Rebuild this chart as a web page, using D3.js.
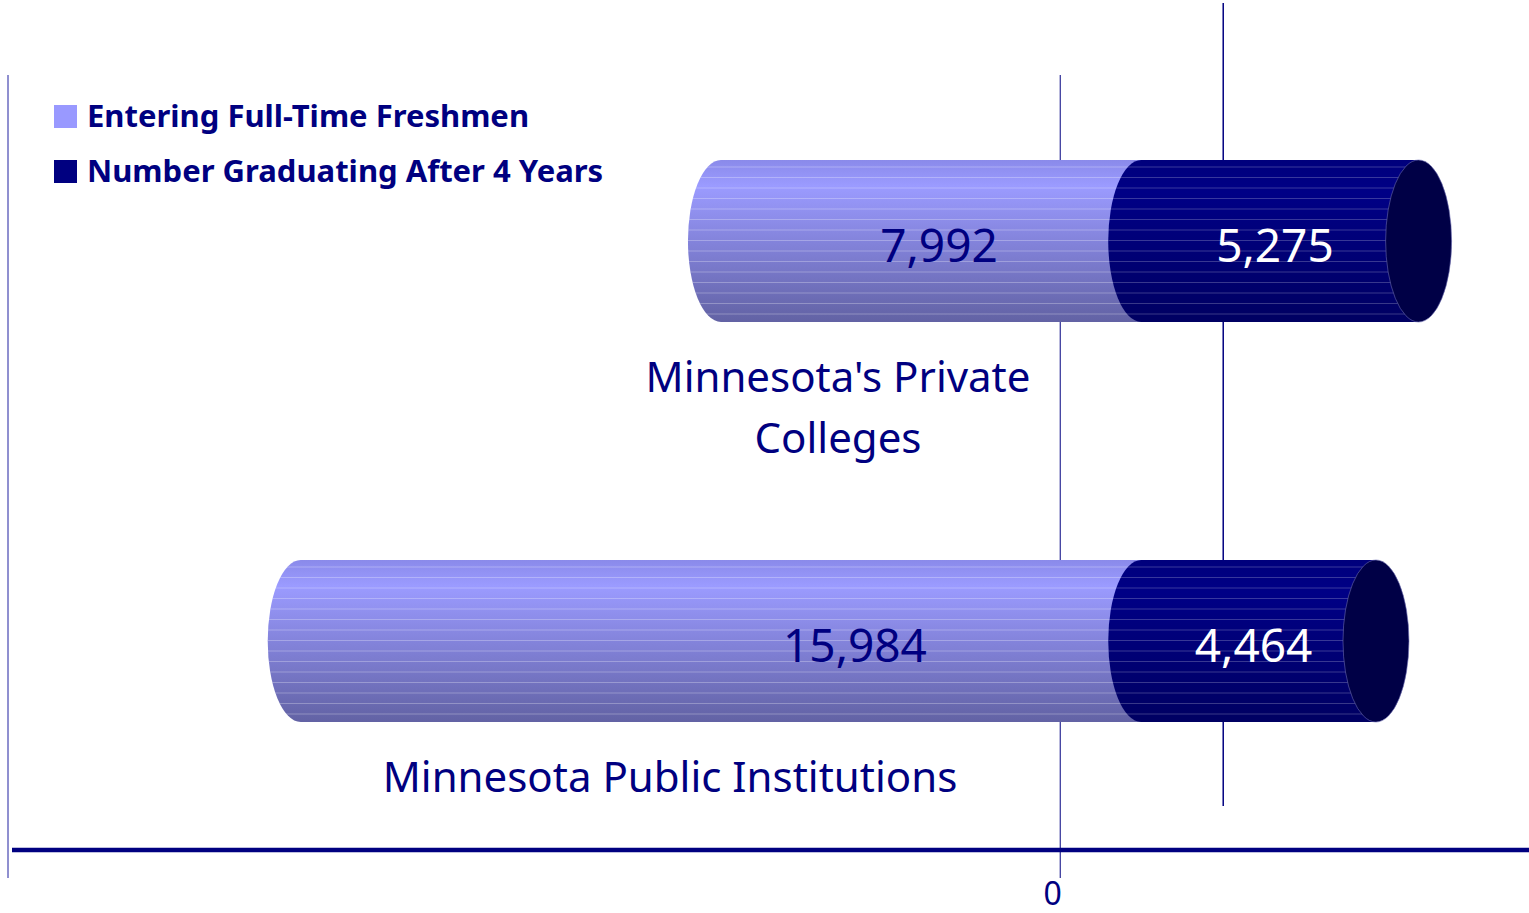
<!DOCTYPE html>
<html>
<head>
<meta charset="utf-8">
<script src="https://cdn.jsdelivr.net/npm/d3@7"></script>
<style>
  body { margin: 0; background: #fff; }
  svg { display: block; }
  text { font-family: "Noto Sans", "Open Sans", sans-serif; fill: #000080; }
</style>
</head>
<body>
<script>
var width = 1529,
    height = 913;

// data
var categories = [["Minnesota's Private", "Colleges"], ["Minnesota Public Institutions"]];
var freshmen = [7992, 15984];
var graduating = [5275, 4464];
var seriesNames = ["Entering Full-Time Freshmen", "Number Graduating After 4 Years"];
var xTicks = [0];

var light = "#9999ff", dark = "#000080";
var fmt = d3.format(",");

var svg = d3.select("body").append("svg")
    .attr("width", width)
    .attr("height", height);

var defs = svg.append("defs");

var gl = defs.append("linearGradient").attr("id", "gLight").attr("x1", 0).attr("x2", 0).attr("y1", 0).attr("y2", 1);
gl.append("stop").attr("offset", 0).attr("stop-color", "#8a8aea");
gl.append("stop").attr("offset", 0.16).attr("stop-color", "#9b9bff");
gl.append("stop").attr("offset", 0.55).attr("stop-color", "#8080d6");
gl.append("stop").attr("offset", 1).attr("stop-color", "#6262a4");

var gd = defs.append("linearGradient").attr("id", "gDark").attr("x1", 0).attr("x2", 0).attr("y1", 0).attr("y2", 1);
gd.append("stop").attr("offset", 0).attr("stop-color", "#00007c");
gd.append("stop").attr("offset", 0.2).attr("stop-color", "#000086");
gd.append("stop").attr("offset", 1).attr("stop-color", "#000062");

// scales (front plane), bars sit half way into the depth
var x = d3.scaleLinear().domain([-20000, 9000]).range([8, 1533]);
var y = d3.scalePoint().domain(d3.range(categories.length)).range([241, 641]);
var depthX = 163, depthY = -72;
var barH = 162, rx = 33;
var bx = function(v) { return x(v) + depthX / 2; };

// plot frame + gridlines
svg.append("line")
    .attr("x1", 8).attr("x2", 8).attr("y1", 75).attr("y2", 878)
    .attr("stroke", "#2020a0").attr("stroke-width", 1);

xTicks.forEach(function(t) {
  svg.append("line")
      .attr("x1", x(t) + 0.5).attr("x2", x(t) + 0.5).attr("y1", 75).attr("y2", 878)
      .attr("stroke", dark).attr("stroke-width", 1);
  svg.append("line")
      .attr("x1", x(t) + depthX + 0.5).attr("x2", x(t) + depthX + 0.5)
      .attr("y1", 75 + depthY).attr("y2", 878 + depthY)
      .attr("stroke", dark).attr("stroke-width", 1.5);
});

// horizontal axis
svg.append("line")
    .attr("x1", 12).attr("x2", width).attr("y1", 850).attr("y2", 850)
    .attr("stroke", dark).attr("stroke-width", 4.5);

svg.selectAll(".tick-label").data(xTicks).enter().append("text")
    .attr("x", function(d) { return x(d) - 7; })
    .attr("y", 905)
    .attr("text-anchor", "middle")
    .style("font-size", "32px")
    .text(function(d) { return d; });

function cylPath(x0, x1, cy) {
  var t = cy - barH / 2, b = cy + barH / 2;
  return "M" + x0 + "," + t +
    "A" + rx + "," + (barH / 2) + " 0 0 0 " + x0 + "," + b +
    "L" + x1 + "," + b + "L" + x1 + "," + t + "Z";
}

function stripes(g, id, x0, x1, cy, op) {
  var clip = defs.append("clipPath").attr("id", id);
  clip.append("path").attr("d", cylPath(x0, x1, cy));
  g.append("g").attr("clip-path", "url(#" + id + ")")
    .selectAll("line").data(d3.range(cy - barH / 2 + 7, cy + barH / 2, 10.5)).enter().append("line")
      .attr("x1", x0 - rx).attr("x2", x1)
      .attr("y1", function(d) { return d; }).attr("y2", function(d) { return d; })
      .attr("stroke", "#ffffff").attr("stroke-opacity", op).attr("stroke-width", 1);
}

var bars = svg.append("g");

categories.forEach(function(c, i) {
  var cy = y(i);
  var g = bars.append("g");
  // freshmen (left of zero)
  var l0 = bx(-freshmen[i]), l1 = bx(0);
  g.append("path").attr("d", cylPath(l0, l1, cy)).attr("fill", "url(#gLight)");
  stripes(g, "cl" + i, l0, l1, cy, 0.28);
  // graduating (right of zero)
  var d0 = bx(0), d1 = bx(graduating[i]);
  g.append("path").attr("d", cylPath(d0, d1, cy)).attr("fill", "url(#gDark)");
  stripes(g, "cd" + i, d0, d1, cy, 0.22);
  g.append("ellipse")
      .attr("cx", d1).attr("cy", cy)
      .attr("rx", rx).attr("ry", barH / 2)
      .attr("fill", "#000046")
      .attr("stroke", "#6a6ab0").attr("stroke-width", 0.6);
});

// value labels
var freshLabelX = [939, 855];
svg.selectAll(".vl-f").data(freshmen).enter().append("text")
    .attr("x", function(d, i) { return freshLabelX[i]; })
    .attr("y", function(d, i) { return y(i) + 21; })
    .attr("text-anchor", "middle")
    .style("font-size", "46px")
    .text(function(d) { return fmt(d); });

svg.selectAll(".vl-g").data(graduating).enter().append("text")
    .attr("x", function(d, i) { return (bx(0) + bx(d)) / 2 - 5; })
    .attr("y", function(d, i) { return y(i) + 21; })
    .attr("text-anchor", "middle")
    .style("font-size", "46px")
    .style("fill", "#ffffff")
    .text(function(d) { return fmt(d); });

// category labels
var catLabelX = [838, 670];
categories.forEach(function(lines, i) {
  var t = svg.append("text")
      .attr("x", catLabelX[i])
      .attr("y", y(i) + 151)
      .attr("text-anchor", "middle")
      .style("font-size", "42px");
  lines.forEach(function(s, j) {
    t.append("tspan").attr("x", catLabelX[i]).attr("dy", j ? 61 : 0).text(s);
  });
});

// legend
var legend = svg.append("g").attr("transform", "translate(54,105)");
seriesNames.forEach(function(s, i) {
  legend.append("rect")
      .attr("x", 0).attr("y", i * 55)
      .attr("width", 23).attr("height", 23)
      .attr("fill", i ? dark : light);
  legend.append("text")
      .attr("x", 33).attr("y", i * 55 + 22)
      .style("font-size", "31px")
      .style("font-weight", "bold")
      .text(s);
});
</script>
</body>
</html>
